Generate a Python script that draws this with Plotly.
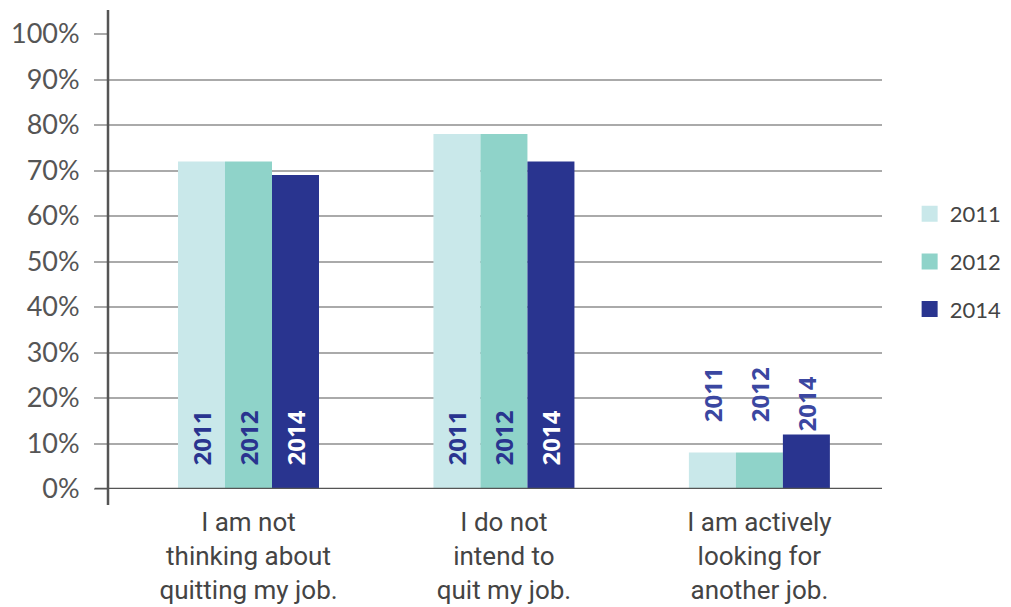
import plotly.graph_objects as go

categories = ["I am not<br>thinking about<br>quitting my job.",
              "I do not<br>intend to<br>quit my job.",
              "I am actively<br>looking for<br>another job."]
years = ["2011", "2012", "2014"]
values_2011 = [72, 78, 8]
values_2012 = [72, 78, 8]
values_2014 = [69, 72, 12]
tick_vals = [0, 10, 20, 30, 40, 50, 60, 70, 80, 90, 100]

series = [values_2011, values_2012, values_2014]
colors = ["#c9e8ea", "#8fd3c9", "#29348f"]
navy = "#29348f"
out_navy = "#3b47a1"
label_colors = [
    [navy, navy, out_navy],
    [navy, navy, out_navy],
    ["white", "white", out_navy],
]
positions = ["inside", "inside", "outside"]
inside_pad = "\u2007\u2008"
outside_pads = ["\u2007\u2007", "\u2007\u2007", ""]

fig = go.Figure()
for yr, vals, col, lc, opad in zip(years, series, colors, label_colors, outside_pads):
    fig.add_trace(go.Bar(
        x=categories, y=vals, name=yr,
        marker=dict(color=col, line=dict(width=0)),
        text=[(inside_pad if p == "inside" else opad) + yr for p in positions],
        textposition=positions,
        insidetextanchor="start",
        textangle=-90,
        constraintext="none",
        textfont=dict(family="Open Sans", size=24, color=lc, weight="bold"),
        cliponaxis=False,
        showlegend=False,
        hoverinfo="skip",
    ))
    fig.add_trace(go.Scatter(
        x=[None], y=[None], mode="markers", name=yr,
        marker=dict(symbol="square", size=20, color=col),
        legendgroup=yr,
    ))

fig.update_layout(
    width=1011, height=607,
    margin=dict(l=100, r=137, t=26, b=126, autoexpand=False),
    paper_bgcolor="white", plot_bgcolor="white",
    barmode="group", bargap=0.448, bargroupgap=0,
    font=dict(family="Lato", color="#444"),
    legend=dict(x=1.0357, y=0.50, xanchor="left", yanchor="middle",
                font=dict(family="Lato", size=22, color="#444"),
                traceorder="grouped", tracegroupgap=16,
                itemsizing="trace"),
    xaxis=dict(type="category", range=[-0.55, 2.48], showgrid=False,
               showline=False, ticks="", zeroline=False, automargin=False,
               tickfont=dict(family="Roboto", size=26, color="#444"),
               ticklabelstandoff=15),
    yaxis=dict(range=[0, 100], tickvals=tick_vals,
               ticktext=[f"{v}%" for v in tick_vals],
               showgrid=True, gridcolor="#aaaaaa", gridwidth=2,
               zeroline=False, showline=False, automargin=False,
               ticks="outside", ticklen=13, tickcolor="#aaaaaa", tickwidth=2,
               ticklabelstandoff=9,
               tickfont=dict(family="Lato", size=27, color="#555")),
)

# axis lines
fig.add_shape(type="line", xref="paper", yref="paper", x0=0, x1=0,
              y0=-0.035, y1=1.053, line=dict(color="#555", width=2.5), layer="above")
fig.add_shape(type="line", xref="paper", yref="y", x0=-0.017, x1=1,
              y0=0, y1=0, line=dict(color="#555", width=2.5), layer="above")

fig.write_html("out.html")
